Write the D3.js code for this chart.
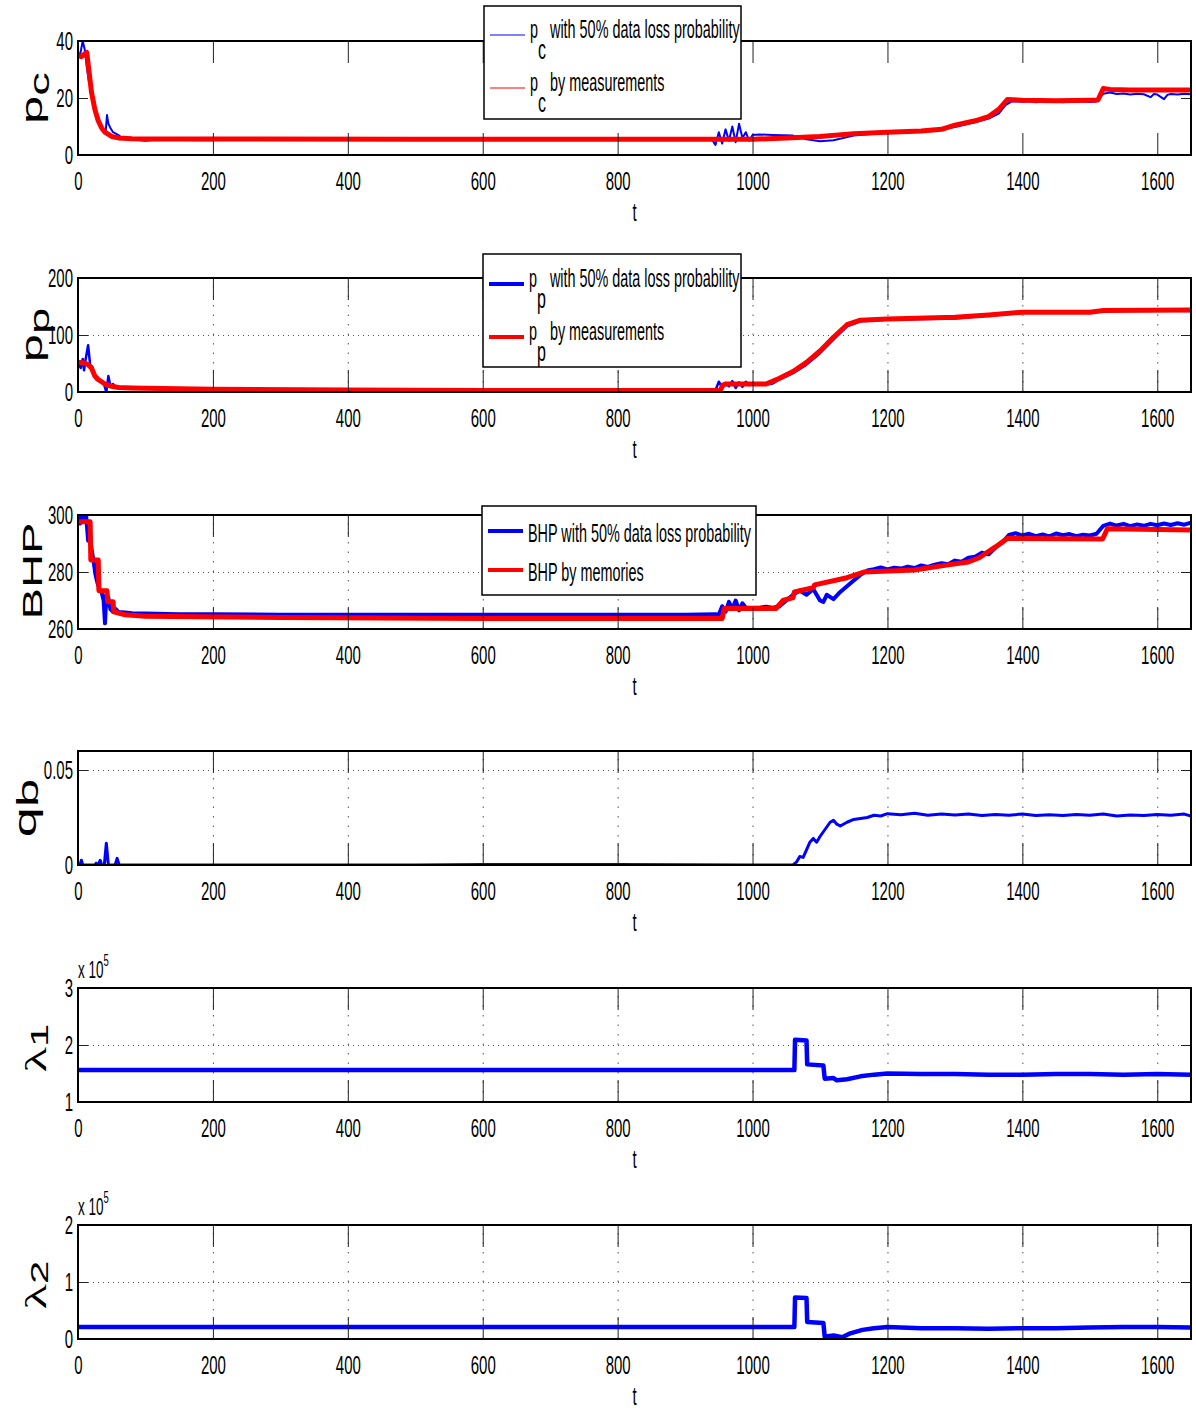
<!DOCTYPE html>
<html>
<head>
<meta charset="utf-8">
<script src="https://cdn.jsdelivr.net/npm/d3@7"></script>
<style>
body { margin: 0; background: #fff; }
svg text { font-family: "Liberation Sans", Arial, sans-serif; fill: #000; }
</style>
</head>
<body>
<svg id="chart" width="1196" height="1410"></svg>
<script>
// the original figure was stretched vertically, so every text is scaled by S in y
const S = 1.75;
const tMax = 1650;
const tTicks = [0, 200, 400, 600, 800, 1000, 1200, 1400, 1600];

// p_c
const pcLossT = [0, 3, 7, 10, 13, 16, 18, 20, 23, 26, 29, 32, 35, 38, 41, 43, 45, 48, 52, 56, 60, 65, 70, 80, 90, 100, 120, 150, 200, 210, 250, 300, 400, 500, 600, 700, 800, 900, 940, 945, 950, 955, 960, 965, 970, 975, 980, 985, 990, 995, 1000, 1010, 1030, 1060, 1080, 1100, 1120, 1150, 1200, 1250, 1280, 1300, 1330, 1350, 1365, 1375, 1385, 1400, 1410, 1420, 1430, 1440, 1450, 1460, 1470, 1480, 1490, 1500, 1510, 1520, 1530, 1540, 1550, 1560, 1570, 1580, 1590, 1595, 1600, 1610, 1615, 1620, 1630, 1640, 1650];
const pcLossV = [36, 35, 40, 37, 31, 26, 25, 24, 20, 16, 14, 12, 10, 9, 8, 14, 11, 9.5, 8, 7.5, 7, 6, 5.8, 5.5, 5.3, 5, 5.4, 5.3, 5.2, 6, 5.5, 5.4, 5.4, 5.3, 5.3, 5.3, 5.3, 5.3, 5.4, 3.5, 8, 4, 9, 5, 10, 4.5, 11, 6, 8, 5, 7, 7.2, 7, 6.8, 5.5, 4.8, 5.2, 6.8, 7.8, 8.3, 9, 9.8, 11.5, 12.8, 14.5, 17.5, 18.9, 18.7, 18.9, 18.5, 18.8, 18.6, 18.9, 18.5, 18.8, 18.7, 18.9, 18.6, 18.8, 21.5, 21.9, 21.4, 21.6, 21.2, 21.5, 21.3, 20.3, 21.4, 21.2, 19.6, 21.1, 21.4, 21.2, 21.5, 21.3];
const pcMeasT = [0, 5, 10, 13, 16, 20, 25, 30, 35, 40, 50, 60, 80, 100, 200, 500, 900, 1000, 1050, 1100, 1150, 1200, 1250, 1280, 1300, 1330, 1350, 1365, 1378, 1400, 1450, 1500, 1512, 1520, 1530, 1560, 1650];
const pcMeasV = [35, 34.5, 35.5, 36, 30, 22, 16, 12, 9.5, 8, 6.5, 6, 5.7, 5.6, 5.6, 5.5, 5.5, 5.5, 6, 6.5, 7.5, 8, 8.4, 9, 10.5, 12, 13.5, 16, 19.5, 19.2, 19, 19.2, 19.3, 23.3, 23, 22.8, 22.8];

// p_p
const ppLossT = [0, 4, 7, 9, 11, 15, 18, 21, 24, 27, 30, 33, 36, 39, 42, 45, 48, 52, 56, 60, 70, 80, 100, 150, 200, 300, 400, 500, 600, 700, 800, 900, 945, 950, 955, 960, 965, 970, 975, 980, 985, 990, 995, 1000, 1010, 1020, 1030, 1040, 1060, 1080, 1100, 1120, 1140, 1160, 1200, 1300, 1350, 1400, 1500, 1520, 1600, 1650];
const ppLossV = [52, 42, 58, 38, 55, 82, 48, 44, 30, 22, 20, 18, 16, 12, 0, 28, 10, 14, 8, 9, 7, 6.5, 6, 5.5, 5, 4, 3.5, 3, 2.5, 2.5, 2.5, 2.5, 3, 18, 8, 16, 10, 19, 7, 17, 9, 18, 12, 15, 14, 13, 15, 22, 33, 48, 68, 92, 115, 124, 127, 129, 134, 139, 139, 142, 143, 142];
const ppMeasT = [0, 10, 15, 20, 25, 30, 35, 40, 50, 60, 80, 100, 200, 400, 600, 900, 952, 956, 960, 1020, 1040, 1060, 1080, 1100, 1120, 1140, 1160, 1200, 1300, 1350, 1400, 1500, 1520, 1650];
const ppMeasV = [52, 51, 48, 42, 28, 22, 18, 14, 10, 8, 7, 6.5, 5, 3.5, 2.5, 2.5, 2.5, 12, 14, 14, 24, 36, 52, 72, 96, 118, 126, 128, 131, 135, 140, 140, 143, 144];

// BHP
const bhpLossT = [0, 3, 6, 9, 12, 15, 17, 20, 23, 26, 29, 32, 35, 38, 40, 42, 45, 48, 52, 56, 60, 70, 80, 100, 150, 200, 300, 400, 500, 600, 700, 800, 900, 945, 950, 955, 960, 965, 970, 975, 980, 985, 990, 1000, 1010, 1020, 1030, 1040, 1050, 1060, 1070, 1080, 1090, 1100, 1105, 1110, 1120, 1130, 1140, 1150, 1160, 1170, 1180, 1190, 1200, 1210, 1220, 1230, 1240, 1250, 1260, 1270, 1280, 1290, 1300, 1310, 1320, 1330, 1340, 1350, 1360, 1370, 1380, 1390, 1400, 1410, 1420, 1430, 1440, 1450, 1460, 1470, 1480, 1490, 1500, 1510, 1520, 1530, 1540, 1550, 1560, 1570, 1580, 1590, 1600, 1610, 1620, 1630, 1640, 1650];
const bhpLossV = [300, 297, 300, 299, 300, 291, 295, 288, 284, 279, 276, 274, 273, 270, 262, 272, 271, 267, 266, 267, 266, 265.8, 265.5, 265.4, 265.2, 265.2, 265, 265, 265, 265, 265, 265, 265, 265.2, 265, 268, 266, 269.5, 267, 270, 266.5, 269, 267.5, 267.5, 267.5, 267.8, 267.5, 268, 270, 272, 273.5, 272, 274, 270, 269.5, 272, 270.5, 273, 275, 277, 279, 280.5, 281, 281.6, 280.9, 281.5, 281.2, 281.9, 281.4, 282.3, 281.8, 282.6, 283.1, 282.7, 284, 283.6, 285, 285.4, 286.8, 286.2, 288.5, 290.3, 293, 293.6, 292.8, 293.4, 292.6, 293.2, 292.5, 293.5, 292.9, 293.3, 292.6, 293.1, 292.8, 293.4, 296.2, 297, 296.3, 296.9, 296.1, 296.7, 296.2, 296.9, 296.4, 297, 296.5, 297.1, 296.6, 297.3];
const bhpMemT = [0, 18, 19, 30, 31, 43, 44, 52, 53, 70, 100, 300, 600, 955, 958, 1035, 1045, 1060, 1062, 1090, 1092, 1140, 1165, 1240, 1290, 1320, 1336, 1360, 1378, 1519, 1526, 1650];
const bhpMemV = [297.6, 297.6, 284.2, 284.2, 273.4, 273.4, 269.6, 269.6, 266, 265, 264.5, 264, 263.7, 263.7, 267.2, 267.2, 270, 271, 273, 274.5, 275.5, 278, 280, 280.7, 282.5, 283.5, 285, 288.8, 291.8, 291.6, 295.2, 294.7];

// q_b
const qbT = [0, 3, 5, 7, 25, 27, 29, 31, 33, 35, 39, 42, 45, 55, 58, 61, 100, 300, 500, 600, 800, 1000, 1060, 1065, 1070, 1075, 1080, 1085, 1090, 1095, 1100, 1105, 1110, 1115, 1120, 1125, 1130, 1140, 1150, 1160, 1170, 1180, 1190, 1200, 1220, 1240, 1260, 1280, 1300, 1320, 1340, 1360, 1380, 1400, 1420, 1440, 1460, 1480, 1500, 1520, 1540, 1560, 1580, 1600, 1620, 1640, 1650];
const qbV = [0, 0, 0.0025, 0, 0, 0.001, 0, 0.001, 0.0025, 0, 0, 0.0115, 0, 0, 0.0035, 0, 0, 0, 0, 0.0003, 0.0002, 0, 0, 0.0015, 0.0045, 0.004, 0.008, 0.012, 0.014, 0.012, 0.015, 0.0175, 0.02, 0.0225, 0.0235, 0.0215, 0.0205, 0.0225, 0.024, 0.0245, 0.025, 0.0262, 0.0258, 0.027, 0.0265, 0.0272, 0.0262, 0.0268, 0.0263, 0.0268, 0.026, 0.0266, 0.0262, 0.0268, 0.0261, 0.0265, 0.026, 0.0266, 0.0262, 0.0268, 0.0258, 0.0263, 0.026, 0.0266, 0.0262, 0.0268, 0.0258];

// lambda_1, lambda_2 (x 10^5)
const lam1T = [0, 1062, 1063, 1080, 1081, 1105, 1107, 1120, 1125, 1140, 1160, 1180, 1200, 1250, 1300, 1350, 1400, 1450, 1500, 1550, 1600, 1650];
const lam1V = [1.56, 1.56, 2.09, 2.08, 1.66, 1.64, 1.41, 1.42, 1.38, 1.40, 1.45, 1.48, 1.50, 1.49, 1.49, 1.48, 1.48, 1.49, 1.49, 1.48, 1.49, 1.48];
const lam2T = [0, 1062, 1063, 1080, 1081, 1105, 1107, 1120, 1133, 1145, 1163, 1180, 1200, 1250, 1300, 1350, 1400, 1450, 1500, 1550, 1600, 1650];
const lam2V = [0.21, 0.21, 0.73, 0.72, 0.30, 0.28, 0.04, 0.06, 0.03, 0.10, 0.16, 0.19, 0.21, 0.19, 0.19, 0.18, 0.19, 0.19, 0.20, 0.21, 0.21, 0.20];

const legendPc = ["with 50% data loss probability", "by measurements"];
const legendBhp = ["BHP with 50% data loss probability", "BHP by memories"];

const BLUE = "#0000ff", RED = "#ff0000";

const panels = [
  { top: 41, domain: [0, 40], ticks: [0, 20, 40], grid: false,
    label: { main: "p", sub: "c", cx: 42, cy: 98, F: 29, subF: 27, subDy: 7 },
    series: [{ t: pcLossT, v: pcLossV, color: BLUE, w: 2 }, { t: pcMeasT, v: pcMeasV, color: RED, w: 5 }],
    legend: { x: 484, y: 6, w: 257, h: 113, lw: 1, dy: 3, items: [
      { y: 35, color: BLUE, main: "p", sub: "c", rest: " " + legendPc[0] },
      { y: 88, color: RED, main: "p", sub: "c", rest: " " + legendPc[1] }] } },
  { top: 278, domain: [0, 200], ticks: [0, 100, 200], grid: true,
    label: { main: "p", sub: "p", cx: 42, cy: 335, F: 29, subF: 27, subDy: 7 },
    series: [{ t: ppLossT, v: ppLossV, color: BLUE, w: 2.5 }, { t: ppMeasT, v: ppMeasV, color: RED, w: 5 }],
    legend: { x: 483, y: 254, w: 258, h: 113, lw: 4, dy: 3, items: [
      { y: 284, color: BLUE, main: "p", sub: "p", rest: " " + legendPc[0] },
      { y: 337, color: RED, main: "p", sub: "p", rest: " " + legendPc[1] }] } },
  { top: 515, domain: [260, 300], ticks: [260, 280, 300], grid: true,
    label: { main: "BHP", cx: 42, cy: 571, F: 27 },
    series: [{ t: bhpLossT, v: bhpLossV, color: BLUE, w: 4 }, { t: bhpMemT, v: bhpMemV, color: RED, w: 5 }],
    legend: { x: 482, y: 506, w: 274, h: 89, lw: 4, dy: 11, items: [
      { y: 531, color: BLUE, main: legendBhp[0] },
      { y: 570, color: RED, main: legendBhp[1] }] } },
  { top: 751, domain: [0, 0.06], ticks: [0, 0.05], grid: true,
    label: { main: "q", sub: "b", cx: 36, cy: 808, F: 31, subF: 29, subDy: 2 },
    series: [{ t: qbT, v: qbV, color: BLUE, w: 3 }] },
  { top: 988, domain: [1, 3], ticks: [1, 2, 3], grid: true, exp: true,
    label: { main: "λ", sub: "1", cx: 46, cy: 1048, F: 30, subF: 24, subDy: 2, serif: true },
    series: [{ t: lam1T, v: lam1V, color: BLUE, w: 4.5 }] },
  { top: 1225, domain: [0, 2], ticks: [0, 1, 2], grid: true, exp: true,
    label: { main: "λ", sub: "2", cx: 46, cy: 1285, F: 30, subF: 24, subDy: 2, serif: true },
    series: [{ t: lam2T, v: lam2V, color: BLUE, w: 4.5 }] }
];

const svg = d3.select("#chart");
const left = 78, right = 1191, ph = 114;
const x = d3.scaleLinear().domain([0, tMax]).range([left, right]);

function styleAxis(sel) {
  sel.attr("font-family", null).attr("font-size", 15);
  sel.select(".domain").remove();
  sel.selectAll(".tick line").attr("stroke", "#222").attr("stroke-width", 1);
}

panels.forEach((p, i) => {
  const y = d3.scaleLinear().domain(p.domain).range([p.top + ph, p.top]);
  const g = svg.append("g");
  const clipId = "clip" + i;
  svg.append("clipPath").attr("id", clipId).append("rect")
    .attr("x", left).attr("y", p.top).attr("width", right - left).attr("height", ph);

  // dotted grid
  if (p.grid) {
    g.append("g").attr("transform", `translate(0,${p.top + ph})`)
      .call(d3.axisBottom(x).tickValues(tTicks).tickSize(-ph).tickFormat(""))
      .call(s => {
        s.select(".domain").remove();
        s.selectAll("line").attr("stroke", "#555").attr("stroke-dasharray", "1.5,8");
      });
    g.append("g").attr("transform", `translate(${left},0)`)
      .call(d3.axisLeft(y).tickValues(p.ticks).tickSize(-(right - left)).tickFormat(""))
      .call(s => {
        s.select(".domain").remove();
        s.selectAll("line").attr("stroke", "#555").attr("stroke-dasharray", "1,4");
      });
  }

  // lines
  p.series.forEach(s => {
    const line = d3.line().x((d, k) => x(s.t[k])).y(d => y(d));
    g.append("path").attr("clip-path", `url(#${clipId})`)
      .attr("d", line(s.v))
      .attr("fill", "none").attr("stroke", s.color).attr("stroke-width", s.w)
      .attr("stroke-linejoin", "round");
  });

  // inner ticks on all four sides + labels
  g.append("g").attr("transform", `translate(0,${p.top + ph})`)
    .call(d3.axisBottom(x).tickValues(tTicks).tickSizeInner(-22).tickSizeOuter(0).tickFormat(d3.format("d")))
    .call(styleAxis)
    .call(s => s.selectAll("text").attr("y", 9.6).attr("transform", `scale(1,${S})`));
  g.append("g").attr("transform", `translate(0,${p.top})`)
    .call(d3.axisTop(x).tickValues(tTicks).tickSize(-22).tickFormat(""))
    .call(styleAxis);
  g.append("g").attr("transform", `translate(${left},0)`)
    .call(d3.axisLeft(y).tickValues(p.ticks).tickSizeInner(-10).tickSizeOuter(0).tickPadding(5)
      .tickFormat(d3.format("")))
    .call(styleAxis)
    .call(s => s.selectAll("text").attr("transform", `scale(1,${S})`));
  g.append("g").attr("transform", `translate(${right},0)`)
    .call(d3.axisRight(y).tickValues(p.ticks).tickSize(-10).tickFormat(""))
    .call(styleAxis);

  // frame
  g.append("rect").attr("x", left).attr("y", p.top).attr("width", right - left).attr("height", ph)
    .attr("fill", "none").attr("stroke", "#000").attr("stroke-width", 2);

  // x label
  g.append("text").attr("transform", `translate(${(left + right) / 2},${p.top + ph + 66}) scale(1,${S})`)
    .attr("text-anchor", "middle").attr("font-size", 15).text("t");

  // multiplier
  if (p.exp) {
    const e = g.append("text").attr("transform", `translate(${left},${p.top - 10}) scale(1,${S})`)
      .attr("font-size", 13.5);
    e.append("tspan").text("x 10");
    e.append("tspan").attr("font-size", 9.5).attr("dy", -7).text("5");
  }

  // y label, rotated and stretched along its reading direction
  const L = p.label;
  const yl = g.append("text")
    .attr("transform", `translate(${L.cx},${L.cy}) scale(1,${S}) rotate(-90)`)
    .attr("text-anchor", "middle").attr("font-size", L.F);
  if (L.serif) yl.style("font-family", "'Liberation Serif', serif");
  yl.append("tspan").text(L.main);
  if (L.sub) yl.append("tspan").attr("font-size", L.subF).attr("dy", L.subDy)
    .style("font-family", "'Liberation Sans', Arial, sans-serif").text(L.sub);

  // legend
  if (p.legend) {
    const lg = p.legend;
    const lgG = svg.append("g");
    lgG.append("rect").attr("x", lg.x).attr("y", lg.y).attr("width", lg.w).attr("height", lg.h)
      .attr("fill", "#fff").attr("stroke", "#000").attr("stroke-width", 1.5);
    lg.items.forEach(it => {
      lgG.append("line").attr("x1", lg.x + 6).attr("x2", lg.x + 41).attr("y1", it.y).attr("y2", it.y)
        .attr("stroke", it.color).attr("stroke-width", lg.lw);
      const t = lgG.append("text")
        .attr("transform", `translate(${lg.x + 46},${it.y + lg.dy}) scale(1,${S})`)
        .attr("font-size", 14.4);
      t.append("tspan").text(it.main);
      if (it.sub) {
        t.append("tspan").attr("dy", 12).attr("font-size", 16).text(it.sub);
        t.append("tspan").attr("dy", -12).text(it.rest);
      }
    });
  }
});
</script>
</body>
</html>
